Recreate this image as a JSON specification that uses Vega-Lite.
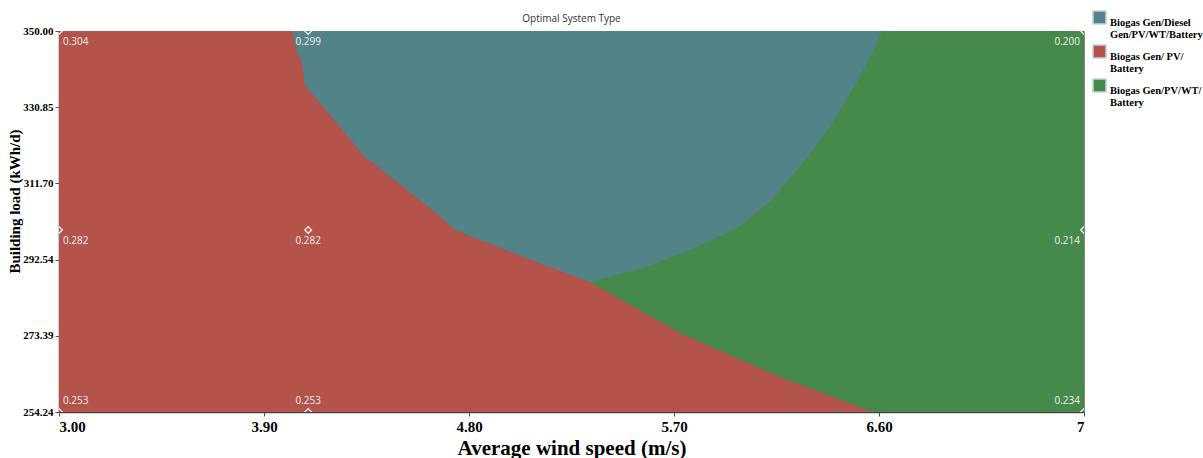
{
  "$schema": "https://vega.github.io/schema/vega-lite/v6.json",
  "width": 1025,
  "height": 381,
  "autosize": {"type": "none"},
  "padding": {"left": 59, "top": 31, "right": 119, "bottom": 46},
  "background": "white",
  "title": {"text": "Optimal System Type", "font": "Open Sans", "fontSize": 10, "fontWeight": "normal", "color": "#333333", "anchor": "middle", "offset": 7, "dy": 21},
  "config": {"view": {"stroke": "#8a8a8a", "strokeWidth": 1}},
  "datasets": {
    "regions": [
      {"region": "Biogas Gen/PV/WT/Battery", "wind": 3, "lo": 254.24, "hi": 350},
      {"region": "Biogas Gen/PV/WT/Battery", "wind": 7.5, "lo": 254.24, "hi": 350},
      {"region": "Biogas Gen/Diesel Gen/PV/WT/Battery", "wind": 4.023, "lo": 254.24, "hi": 350},
      {"region": "Biogas Gen/Diesel Gen/PV/WT/Battery", "wind": 5.33, "lo": 254.24, "hi": 350},
      {"region": "Biogas Gen/Diesel Gen/PV/WT/Battery", "wind": 5.331, "lo": 286.91, "hi": 350},
      {"region": "Biogas Gen/Diesel Gen/PV/WT/Battery", "wind": 5.581, "lo": 290.68, "hi": 350},
      {"region": "Biogas Gen/Diesel Gen/PV/WT/Battery", "wind": 5.801, "lo": 295.71, "hi": 350},
      {"region": "Biogas Gen/Diesel Gen/PV/WT/Battery", "wind": 5.977, "lo": 300.49, "hi": 350},
      {"region": "Biogas Gen/Diesel Gen/PV/WT/Battery", "wind": 6.121, "lo": 307.02, "hi": 350},
      {"region": "Biogas Gen/Diesel Gen/PV/WT/Battery", "wind": 6.284, "lo": 318.08, "hi": 350},
      {"region": "Biogas Gen/Diesel Gen/PV/WT/Battery", "wind": 6.398, "lo": 327.13, "hi": 350},
      {"region": "Biogas Gen/Diesel Gen/PV/WT/Battery", "wind": 6.503, "lo": 337.18, "hi": 350},
      {"region": "Biogas Gen/Diesel Gen/PV/WT/Battery", "wind": 6.573, "lo": 344.72, "hi": 350},
      {"region": "Biogas Gen/Diesel Gen/PV/WT/Battery", "wind": 6.613, "lo": 350, "hi": 350},
      {"region": "Biogas Gen/ PV/ Battery", "wind": 3, "lo": 254.24, "hi": 350},
      {"region": "Biogas Gen/ PV/ Battery", "wind": 4.023, "lo": 254.24, "hi": 350},
      {"region": "Biogas Gen/ PV/ Battery", "wind": 4.045, "lo": 254.24, "hi": 344.72},
      {"region": "Biogas Gen/ PV/ Battery", "wind": 4.067, "lo": 254.24, "hi": 341.96},
      {"region": "Biogas Gen/ PV/ Battery", "wind": 4.08, "lo": 254.24, "hi": 336.43},
      {"region": "Biogas Gen/ PV/ Battery", "wind": 4.19, "lo": 254.24, "hi": 328.89},
      {"region": "Biogas Gen/ PV/ Battery", "wind": 4.335, "lo": 254.24, "hi": 318.83},
      {"region": "Biogas Gen/ PV/ Battery", "wind": 4.484, "lo": 254.24, "hi": 312.05},
      {"region": "Biogas Gen/ PV/ Battery", "wind": 4.629, "lo": 254.24, "hi": 305.51},
      {"region": "Biogas Gen/ PV/ Battery", "wind": 4.739, "lo": 254.24, "hi": 299.98},
      {"region": "Biogas Gen/ PV/ Battery", "wind": 4.993, "lo": 254.24, "hi": 294.2},
      {"region": "Biogas Gen/ PV/ Battery", "wind": 5.213, "lo": 254.24, "hi": 289.43},
      {"region": "Biogas Gen/ PV/ Battery", "wind": 5.331, "lo": 254.24, "hi": 286.91},
      {"region": "Biogas Gen/ PV/ Battery", "wind": 5.726, "lo": 254.24, "hi": 274.1},
      {"region": "Biogas Gen/ PV/ Battery", "wind": 6.165, "lo": 254.24, "hi": 263.04},
      {"region": "Biogas Gen/ PV/ Battery", "wind": 6.573, "lo": 254.24, "hi": 254.24}
    ],
    "points": [
      {"wind": 3, "load": 350, "cost": "0.304", "col": "left", "row": "upper"},
      {"wind": 3, "load": 300, "cost": "0.282", "col": "left", "row": "upper"},
      {"wind": 3, "load": 254.24, "cost": "0.253", "col": "left", "row": "lower"},
      {"wind": 4.094, "load": 350, "cost": "0.299", "col": "mid", "row": "upper"},
      {"wind": 4.094, "load": 300, "cost": "0.282", "col": "mid", "row": "upper"},
      {"wind": 4.094, "load": 254.24, "cost": "0.253", "col": "mid", "row": "lower"},
      {"wind": 7.5, "load": 350, "cost": "0.200", "col": "right", "row": "upper"},
      {"wind": 7.5, "load": 300, "cost": "0.214", "col": "right", "row": "upper"},
      {"wind": 7.5, "load": 254.24, "cost": "0.234", "col": "right", "row": "lower"}
    ]
  },
  "layer": [
    {
      "data": {"name": "regions"},
      "transform": [{"filter": "datum.region == 'Biogas Gen/PV/WT/Battery'"}],
      "mark": {"type": "area", "interpolate": "linear", "opacity": 1},
      "encoding": {
        "x": {"field": "wind", "type": "quantitative", "scale": {"domain": [3, 7.5], "nice": false, "zero": false},
          "axis": {"values": [3, 3.9, 4.8, 5.7, 6.6, 7.5], "labelExpr": "datum.value >= 7.5 ? '7' : format(datum.value, '.2f')", "labelFlush": true,
            "title": "Average wind speed (m/s)", "titleFont": "Liberation Serif", "titleFontSize": 21, "titleFontWeight": "bold", "titleColor": "#000000", "titlePadding": 3,
            "labelFont": "Liberation Serif", "labelFontSize": 15, "labelFontWeight": "bold", "labelColor": "#000000", "labelPadding": 3,
            "domainColor": "#444444", "domainWidth": 1.5, "tickColor": "#555555", "tickSize": 4, "grid": false}},
        "y": {"field": "hi", "type": "quantitative", "scale": {"domain": [254.24, 350], "nice": false, "zero": false},
          "axis": {"values": [254.24, 273.39, 292.54, 311.7, 330.85, 350], "format": ".2f",
            "title": "Building load (kWh/d)", "titleFont": "Liberation Serif", "titleFontSize": 15, "titleFontWeight": "bold", "titleColor": "#000000", "titleX": -37, "titleY": 170,
            "labelFont": "Liberation Serif", "labelFontSize": 11, "labelFontWeight": "bold", "labelColor": "#000000", "labelPadding": 2,
            "domainColor": "#444444", "domainWidth": 1.5, "tickColor": "#555555", "tickSize": 4, "grid": false}},
        "y2": {"field": "lo"},
        "color": {"field": "region", "type": "nominal",
          "scale": {"domain": ["Biogas Gen/Diesel Gen/PV/WT/Battery", "Biogas Gen/ PV/ Battery", "Biogas Gen/PV/WT/Battery"], "range": ["#528388", "#b3534a", "#458a4b"]},
          "legend": {"title": null, "orient": "none", "legendX": 1033, "legendY": -21, "symbolType": "square", "symbolSize": 170, "symbolStrokeColor": "#c5d2e2", "symbolStrokeWidth": 1.5, "symbolOpacity": 1,
            "labelFont": "Liberation Serif", "labelFontSize": 10.5, "labelFontWeight": "bold", "labelColor": "#000000", "labelBaseline": "top", "labelOffset": 3, "labelLimit": 200, "rowPadding": 0,
            "labelExpr": "datum.label == 'Biogas Gen/Diesel Gen/PV/WT/Battery' ? ['Biogas Gen/Diesel', 'Gen/PV/WT/Battery'] : datum.label == 'Biogas Gen/ PV/ Battery' ? ['Biogas Gen/ PV/', 'Battery'] : ['Biogas Gen/PV/WT/', 'Battery']"}}
      }
    },
    {
      "data": {"name": "regions"},
      "transform": [{"filter": "datum.region == 'Biogas Gen/Diesel Gen/PV/WT/Battery'"}],
      "mark": {"type": "area", "interpolate": "linear", "opacity": 1},
      "encoding": {
        "x": {"field": "wind", "type": "quantitative"},
        "y": {"field": "hi", "type": "quantitative"},
        "y2": {"field": "lo"},
        "color": {"field": "region", "type": "nominal"}
      }
    },
    {
      "data": {"name": "regions"},
      "transform": [{"filter": "datum.region == 'Biogas Gen/ PV/ Battery'"}],
      "mark": {"type": "area", "interpolate": "linear", "opacity": 1},
      "encoding": {
        "x": {"field": "wind", "type": "quantitative"},
        "y": {"field": "hi", "type": "quantitative"},
        "y2": {"field": "lo"},
        "color": {"field": "region", "type": "nominal"}
      }
    },
    {
      "data": {"name": "points"},
      "mark": {"type": "point", "shape": "diamond", "filled": false, "stroke": "#f2f2f2", "strokeWidth": 1.3, "size": 45, "opacity": 1, "clip": true},
      "encoding": {
        "x": {"field": "wind", "type": "quantitative"},
        "y": {"field": "load", "type": "quantitative"}
      }
    },
    {
      "data": {"name": "points"},
      "transform": [{"filter": "datum.col == 'left' && datum.row == 'upper'"}],
      "mark": {"type": "text", "font": "Open Sans", "fontSize": 10, "fill": "#eeeeee", "align": "left", "baseline": "middle", "dx": 4, "dy": 11},
      "encoding": {"x": {"field": "wind", "type": "quantitative"}, "y": {"field": "load", "type": "quantitative"}, "text": {"field": "cost"}}
    },
    {
      "data": {"name": "points"},
      "transform": [{"filter": "datum.col == 'left' && datum.row == 'lower'"}],
      "mark": {"type": "text", "font": "Open Sans", "fontSize": 10, "fill": "#eeeeee", "align": "left", "baseline": "middle", "dx": 4, "dy": -11},
      "encoding": {"x": {"field": "wind", "type": "quantitative"}, "y": {"field": "load", "type": "quantitative"}, "text": {"field": "cost"}}
    },
    {
      "data": {"name": "points"},
      "transform": [{"filter": "datum.col == 'mid' && datum.row == 'upper'"}],
      "mark": {"type": "text", "font": "Open Sans", "fontSize": 10, "fill": "#eeeeee", "align": "center", "baseline": "middle", "dy": 11},
      "encoding": {"x": {"field": "wind", "type": "quantitative"}, "y": {"field": "load", "type": "quantitative"}, "text": {"field": "cost"}}
    },
    {
      "data": {"name": "points"},
      "transform": [{"filter": "datum.col == 'mid' && datum.row == 'lower'"}],
      "mark": {"type": "text", "font": "Open Sans", "fontSize": 10, "fill": "#eeeeee", "align": "center", "baseline": "middle", "dy": -11},
      "encoding": {"x": {"field": "wind", "type": "quantitative"}, "y": {"field": "load", "type": "quantitative"}, "text": {"field": "cost"}}
    },
    {
      "data": {"name": "points"},
      "transform": [{"filter": "datum.col == 'right' && datum.row == 'upper'"}],
      "mark": {"type": "text", "font": "Open Sans", "fontSize": 10, "fill": "#eeeeee", "align": "right", "baseline": "middle", "dx": -4, "dy": 11},
      "encoding": {"x": {"field": "wind", "type": "quantitative"}, "y": {"field": "load", "type": "quantitative"}, "text": {"field": "cost"}}
    },
    {
      "data": {"name": "points"},
      "transform": [{"filter": "datum.col == 'right' && datum.row == 'lower'"}],
      "mark": {"type": "text", "font": "Open Sans", "fontSize": 10, "fill": "#eeeeee", "align": "right", "baseline": "middle", "dx": -4, "dy": -11},
      "encoding": {"x": {"field": "wind", "type": "quantitative"}, "y": {"field": "load", "type": "quantitative"}, "text": {"field": "cost"}}
    }
  ]
}
